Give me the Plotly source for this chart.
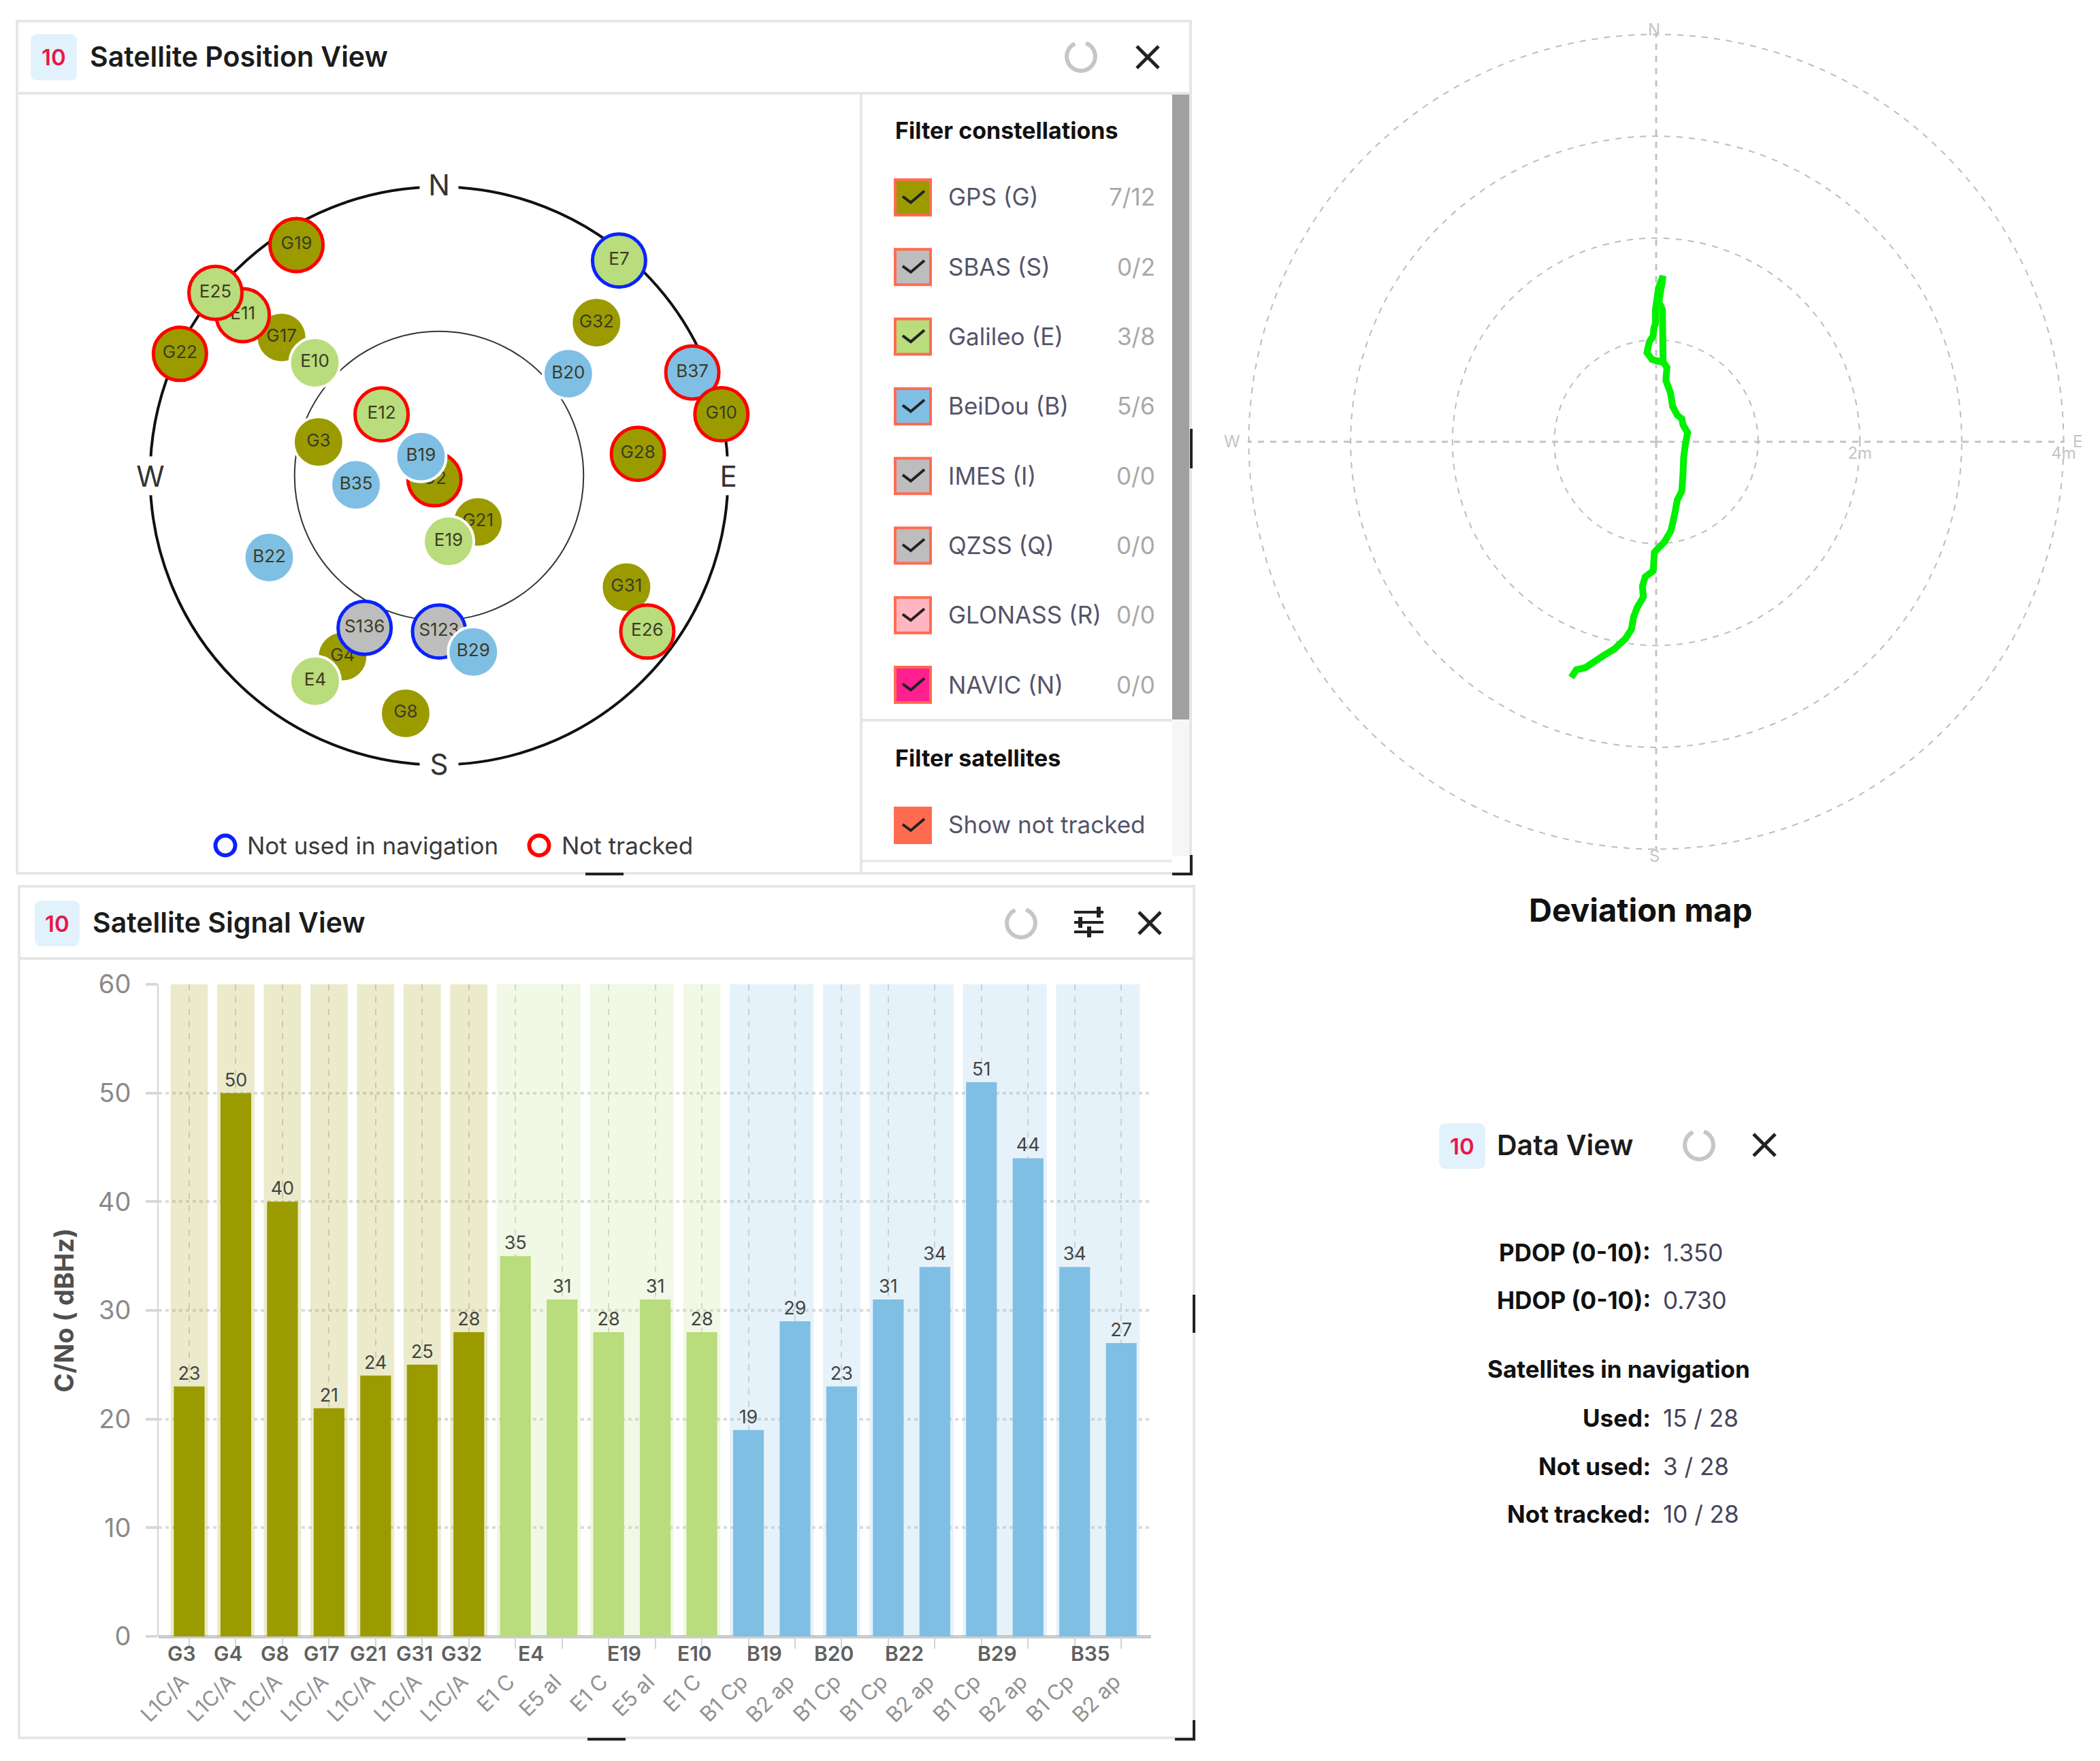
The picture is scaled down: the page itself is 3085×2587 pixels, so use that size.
import numpy as np
import plotly.graph_objects as go

W, H = 3085, 2587
FONT = "Inter"

# satellite signal view
bar_sats = ["G3", "G4", "G8", "G17", "G21", "G31", "G32", "E4", "E4", "E19", "E19", "E10",
            "B19", "B19", "B20", "B22", "B22", "B29", "B29", "B35", "B35"]
bar_signals = ["L1C/A", "L1C/A", "L1C/A", "L1C/A", "L1C/A", "L1C/A", "L1C/A",
               "E1 C", "E5 aI", "E1 C", "E5 aI", "E1 C",
               "B1 Cp", "B2 ap", "B1 Cp", "B1 Cp", "B2 ap", "B1 Cp", "B2 ap", "B1 Cp", "B2 ap"]
bar_cno = [23, 50, 40, 21, 24, 25, 28, 35, 31, 28, 31, 28, 19, 29, 23, 31, 34, 51, 44, 34, 27]
cno_ticks = [0, 10, 20, 30, 40, 50, 60]

# sky plot, in drawing order (azimuth deg, zenith angle deg, ring state)
sat_names = ["B37", "G19", "G17", "G22", "G32", "G10", "G28", "G3", "G2", "G21", "G31", "G4", "G8",
             "S136", "S123", "E11", "E25", "E10", "E7", "E12", "E19", "E26", "E4",
             "B20", "B19", "B35", "B22", "B29"]
sat_az = [67.8, 328.3, 311.3, 295.2, 45.8, 77.7, 83.7, 285.7, 233, 139.9, 120.7, 208.1, 188,
          206.1, 180, 309.3, 309.3, 312.3, 39.9, 316.9, 171.7, 126.8, 211.1,
          51.7, 316.7, 263.8, 244.3, 169]
sat_zen = [85.2, 84.5, 65.3, 89.2, 68.4, 90, 62.3, 39, 1.8, 18.8, 67.9, 63.8, 74.7,
           52.7, 48.5, 79, 90, 52.3, 87.4, 26.2, 20.6, 81, 74.7,
           51.3, 8.2, 26, 58.7, 55.9]
sat_state = ["red", "red", "", "red", "", "red", "red", "", "red", "", "", "", "",
             "blue", "blue", "red", "red", "", "blue", "red", "", "red", "",
             "", "", "", "", ""]

# deviation track, metres east / north of the reference
dev_east = [-0.833, -0.784, -0.694, -0.604, -0.514, -0.412, -0.300, -0.243, -0.221, -0.187, -0.126,
            -0.135, -0.108, -0.029, -0.018, 0.083, 0.144, 0.162, 0.185, 0.207, 0.252, 0.264, 0.270,
            0.286, 0.309, 0.264, 0.252, 0.207, 0.162, 0.140, 0.095, 0.106, 0.068, 0.061, 0.027,
            0.068, 0.023, -0.007, -0.007, -0.023, -0.029, -0.068, -0.090, -0.041, 0.072]
dev_north = [-2.314, -2.238, -2.217, -2.157, -2.097, -2.036, -1.931, -1.840, -1.719, -1.629, -1.523,
             -1.418, -1.327, -1.267, -1.086, -0.980, -0.875, -0.799, -0.694, -0.573, -0.483, -0.302, -0.151,
             -0.030, 0.090, 0.166, 0.226, 0.262, 0.347, 0.483, 0.603, 0.730, 0.784, 1.297, 1.373,
             1.629, 1.508, 1.297, 1.161, 1.116, 1.041, 0.980, 0.875, 0.808, 0.778]

# filter list
filter_names = ["GPS (G)", "SBAS (S)", "Galileo (E)", "BeiDou (B)", "IMES (I)", "QZSS (Q)", "GLONASS (R)", "NAVIC (N)"]
filter_counts = ["7/12", "0/2", "3/8", "5/6", "0/0", "0/0", "0/0", "0/0"]
filter_colors = ["#9b9b00", "#bdbdbd", "#b9dc7c", "#80bfe4", "#bdbdbd", "#bdbdbd", "#ffb6c1", "#ff1f8f"]

# data view
data_labels = ["PDOP (0-10):", "HDOP (0-10):", "Used:", "Not used:", "Not tracked:"]
data_values = ["1.350", "0.730", "15 / 28", "3 / 28", "10 / 28"]

COLORS = {"G": "#9b9b00", "E": "#b9dc7c", "B": "#80bfe4", "S": "#bdbdbd"}
BANDS = {"G": "rgba(155,155,0,0.2)", "E": "rgba(185,220,124,0.2)", "B": "rgba(128,191,228,0.2)"}
RINGS = {"red": "#ff0000", "blue": "#0a22ff"}


def fx(x):
    return x / W


def fy(y):
    return 1 - y / H


shapes = []
annotations = []


def rect(x0, y0, x1, y1, fill=None, line=None, lw=0):
    shapes.append(dict(type="rect", xref="paper", yref="paper", x0=fx(x0), x1=fx(x1), y0=fy(y0), y1=fy(y1),
                       fillcolor=fill, line=dict(color=line, width=lw), layer="below"))


def poly(points, color, lw, fill=None):
    path = "M " + " L ".join(f"{fx(x):.5f},{fy(y):.5f}" for x, y in points)
    if fill:
        path += " Z"
    shapes.append(dict(type="path", xref="paper", yref="paper", path=path, fillcolor=fill,
                       line=dict(color=color, width=lw), layer="below"))


def note(text, x, y, size, color="#222222", anchor="left", weight=400, **kw):
    annotations.append(dict(text=text, x=fx(x), y=fy(y), xref="paper", yref="paper", showarrow=False,
                            xanchor=anchor, yanchor="middle", **kw,
                            font=dict(family=FONT, size=size, color=color, weight=weight)))


def ring(x, y, d, color, lw):
    shapes.append(dict(type="circle", xref="paper", yref="paper", x0=fx(x - d / 2), x1=fx(x + d / 2),
                       y0=fy(y - d / 2), y1=fy(y + d / 2), line=dict(color=color, width=lw), layer="below"))


def badge(x0, y0, x1, y1):
    r = 10
    pts = f"M {fx(x0 + r)},{fy(y0)} L {fx(x1 - r)},{fy(y0)} Q {fx(x1)},{fy(y0)} {fx(x1)},{fy(y0 + r)} " \
          f"L {fx(x1)},{fy(y1 - r)} Q {fx(x1)},{fy(y1)} {fx(x1 - r)},{fy(y1)} " \
          f"L {fx(x0 + r)},{fy(y1)} Q {fx(x0)},{fy(y1)} {fx(x0)},{fy(y1 - r)} " \
          f"L {fx(x0)},{fy(y0 + r)} Q {fx(x0)},{fy(y0)} {fx(x0 + r)},{fy(y0)} Z"
    shapes.append(dict(type="path", xref="paper", yref="paper", path=pts, fillcolor="#e2f2fd",
                       line=dict(width=0), layer="below"))
    note("10", (x0 + x1) / 2, (y0 + y1) / 2, 33, "#e8174a", "center", 600)


def spinner(x, y):
    a = np.radians(np.arange(20, 345, 15))
    poly([(x + 21 * np.sin(t), y - 21 * np.cos(t)) for t in a], "#c6c6c6", 6)


def close_x(x, y):
    poly([(x - 16, y - 16), (x + 16, y + 16)], "#222222", 5)
    poly([(x - 16, y + 16), (x + 16, y - 16)], "#222222", 5)


def handles(x0, x1, ybot, xside, ys0, ys1):
    poly([(x0, ybot), (x1, ybot)], "#222222", 4)
    poly([(xside, ys0), (xside, ys1)], "#222222", 4)
    poly([(xside - 28, ybot), (xside, ybot), (xside, ybot - 28)], "#222222", 4)


# position panel
rect(25, 31, 1749, 1283, "#ffffff", "#e6e6e6", 4)
poly([(25, 137), (1749, 137)], "#e6e6e6", 4)
poly([(1265, 137), (1265, 1283)], "#e6e6e6", 4)
poly([(1265, 1058), (1722, 1058)], "#e6e6e6", 4)
poly([(1265, 1265), (1722, 1265)], "#e6e6e6", 3)
rect(1722, 139, 1747, 1057, "#a0a0a0")
rect(1722, 1058, 1747, 1258, "#f6f6f6")
badge(45, 50, 113, 118)
note("Satellite Position View", 130, 83, 41, "#1c1c1c", weight=600)
spinner(1588, 83)
close_x(1686, 84)
handles(860, 916, 1284, 1750, 630, 688)

note("Filter constellations", 1313, 192, 34, "#111111", weight=700)
for i, name in enumerate(filter_names):
    yc = 289.5 + i * 102.3
    rect(1315, 264 + i * 102.3, 1367, 316 + i * 102.3, filter_colors[i], "#ff6b50", 4)
    poly([(1326, yc - 1), (1338, yc + 8), (1358, yc - 9)], "#222222", 4)
    note(name, 1391, yc, 35, "#54546a")
    note(filter_counts[i], 1699, yc, 35, "#a8a8a8", "right")
note("Filter satellites", 1313, 1113, 34, "#111111", weight=700)
rect(1313, 1185, 1369, 1240, "#ff6b50")
poly([(1326, 1211), (1338, 1220), (1358, 1203)], "#222222", 4)
note("Show not tracked", 1391, 1211, 35, "#54546a")

ring(331, 1242, 29, RINGS["blue"], 6)
note("Not used in navigation", 361, 1242, 35, "#3a3a3a")
ring(792, 1242, 29, RINGS["red"], 6)
note("Not tracked", 823, 1242, 35, "#3a3a3a")

# signal panel
rect(28, 1302, 1754, 2553, "#ffffff", "#e6e6e6", 4)
poly([(28, 1408), (1754, 1408)], "#e6e6e6", 4)
badge(51, 1323, 117, 1390)
note("Satellite Signal View", 134, 1355, 41, "#1c1c1c", weight=600)
spinner(1500, 1356)
close_x(1689, 1356)
for yl, xk in [(1340, 1614), (1355, 1587), (1369, 1600)]:
    poly([(1578, yl), (1621, yl)], "#222222", 4)
    poly([(xk, yl - 8), (xk, yl + 8)], "#222222", 6)
handles(863, 919, 2555, 1754, 1902, 1958)

# data view panel text
badge(2114, 1650, 2182, 1717)
note("Data View", 2197, 1682, 41, "#1c1c1c", weight=600)
spinner(2496, 1682)
close_x(2592, 1682)
note("Satellites in navigation", 2378, 2011, 35, "#111111", "center", 700)
for label, value, yc in zip(data_labels, data_values, [1840, 1910, 2083, 2154, 2224]):
    note(label, 2427, yc, 35, "#111111", "right", 700)
    note(value, 2441, yc, 35, "#44445a")

note("Deviation map", 2410, 1336, 47, "#111111", "center", 700)

# compass letters on the two polar plots
for letter, x, y in [("N", 645, 271), ("S", 645, 1122), ("W", 221, 699), ("E", 1070, 699)]:
    note(letter, x, y, 42, "#333333", "center", bgcolor="#ffffff", width=54, height=54, align="center", valign="middle")
for letter, x, y in [("N", 2430, 43), ("S", 2430, 1257), ("W", 1810, 649), ("E", 3052, 649)]:
    note(letter, x, y, 24, "#c4c4c4", "center")

fig = go.Figure()

# signal bars: pale satellite bands first, then the measured values
idx = np.arange(len(bar_sats))
group_names = list(dict.fromkeys(bar_sats))
for sat in group_names:
    members = idx[np.array(bar_sats) == sat]
    fig.add_trace(go.Bar(x=[members.mean()], y=[cno_ticks[-1]], width=[len(members) - 1 + 0.8],
                         marker=dict(color=BANDS[sat[0]], line=dict(width=0)), hoverinfo="skip", showlegend=False))
    annotations.append(dict(text=sat, x=members.mean(), xref="x", xshift=-11, y=fy(2429), yref="paper",
                            showarrow=False, yanchor="middle",
                            font=dict(family=FONT, size=30, color="#606060", weight=600)))

fig.add_trace(go.Bar(x=idx, y=bar_cno, width=0.66, text=bar_cno, textposition="outside", cliponaxis=False,
                     textfont=dict(family=FONT, size=27, color="#444444"),
                     marker=dict(color=[COLORS[s[0]] for s in bar_sats], line=dict(width=0)),
                     showlegend=False))

# sky plot: one trace per satellite so the stacking hides labels as in the app
for name, az, zen, state in zip(sat_names, sat_az, sat_zen, sat_state):
    fig.add_trace(go.Scatterpolar(
        r=[zen], theta=[az], text=[name], mode="markers+text", subplot="polar", showlegend=False,
        cliponaxis=False, textposition="middle center",
        textfont=dict(family=FONT, size=26, color="#3c3c24"),
        marker=dict(size=78 if state else 74, color=COLORS[name[0]],
                    line=dict(color=RINGS.get(state, "#ffffff"), width=5 if state else 4))))

# deviation track
east = np.array(dev_east)
north = np.array(dev_north)
fig.add_trace(go.Scatterpolar(r=np.hypot(east, north), theta=np.degrees(np.arctan2(east, north)) % 360,
                              mode="lines", subplot="polar2", showlegend=False,
                              line=dict(color="#00f000", width=10)))

fig.update_layout(
    width=W, height=H, margin=dict(l=0, r=0, t=0, b=0), paper_bgcolor="#ffffff", plot_bgcolor="rgba(0,0,0,0)",
    barmode="overlay", shapes=shapes, annotations=annotations,
    font=dict(family=FONT),
    xaxis=dict(domain=[fx(233), fx(1691)], range=[-0.657, 20.64], tickvals=idx.tolist(), ticktext=bar_signals,
               automargin=False,
               tickangle=-45, ticklabelstandoff=18, ticklabelshift=-10, tickfont=dict(family=FONT, size=31, color="#929292"),
               ticks="outside", ticklen=17, tickwidth=2, tickcolor="#d4d4d4",
               showgrid=True, gridcolor="#d8d8d8", griddash="dash", gridwidth=2, zeroline=False, showline=False),
    yaxis=dict(domain=[fy(2404), fy(1446)], range=[0, 60], tickvals=cno_ticks, automargin=False,
               tickfont=dict(family=FONT, size=38, color="#8a8a8a"), ticklabelstandoff=14,
               ticks="outside", ticklen=17, tickwidth=4, tickcolor="#d8d8d8",
               showgrid=True, gridcolor="#dcdcdc", griddash="5px,5px", gridwidth=4,
               zeroline=True, zerolinecolor="#cccccc", zerolinewidth=5,
               showline=True, linecolor="#d4d4d4", linewidth=2,
               title=dict(text="C/No ( dBHz)", standoff=24, font=dict(family=FONT, size=38, color="#4f4f4f", weight=700))),
    polar=dict(
        domain=dict(x=[fx(645 - 424.5), fx(645 + 424.5)], y=[fy(699 + 424.5), fy(699 - 424.5)]),
        bgcolor="rgba(0,0,0,0)",
        radialaxis=dict(range=[0, 90], tickvals=[45], showticklabels=False, ticks="", showline=False,
                        gridcolor="#333333", gridwidth=2, layer="below traces"),
        angularaxis=dict(direction="clockwise", rotation=90, showgrid=False, showticklabels=False, ticks="",
                         showline=True, linecolor="#111111", linewidth=4, layer="below traces"),
    ),
    polar2=dict(
        domain=dict(x=[fx(2433 - 600), fx(2433 + 600)], y=[fy(649 + 600), fy(649 - 600)]),
        bgcolor="rgba(0,0,0,0)",
        radialaxis=dict(range=[0, 4.01], tickvals=[1, 2, 3, 4], ticktext=["", "2m", "", "4m"], angle=0, tickangle=0,
                        tickfont=dict(family=FONT, size=24, color="#c4c4c4"), ticks="", showline=False,
                        gridcolor="#bdbdbd", griddash="dash", gridwidth=2, layer="below traces"),
        angularaxis=dict(direction="clockwise", rotation=90, tickvals=[0, 90, 180, 270], showticklabels=False,
                         ticks="", showline=False, gridcolor="#c4c4c4", griddash="dash", gridwidth=3,
                         layer="below traces"),
    ),
)

fig.write_html("out.html", config=dict(displayModeBar=False), post_script="document.body.style.margin='0';")
